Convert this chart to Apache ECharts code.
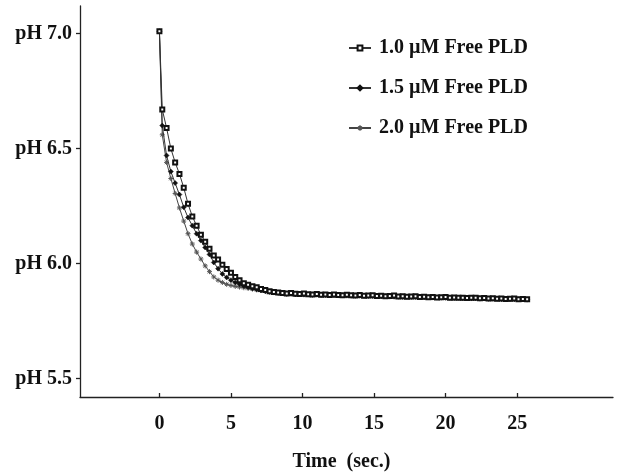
<!DOCTYPE html>
<html>
<head>
<meta charset="utf-8">
<script src="https://cdn.jsdelivr.net/npm/echarts@6/dist/echarts.min.js"></script>
<style>
html,body{margin:0;padding:0;background:#fff;}
#chart{width:620px;height:476px;}
</style>
</head>
<body>
<div id="chart"></div>
<script>
var time = [0, 0.2, 0.5, 0.8, 1.1, 1.4, 1.7, 2.0, 2.3, 2.6, 2.9, 3.2, 3.5, 3.8, 4.1, 4.4, 4.7, 5.0, 5.3, 5.6, 5.9, 6.2, 6.5, 6.8, 7.1, 7.4, 7.7, 8.0, 8.3, 8.6,
  8.9, 9.2, 9.5, 9.8, 10.1, 10.4, 10.7, 11.0, 11.3, 11.6,
  11.9, 12.2, 12.5, 12.8, 13.1, 13.4, 13.7, 14.0, 14.3, 14.6,
  14.9, 15.2, 15.5, 15.8, 16.1, 16.4, 16.7, 17.0, 17.3, 17.6,
  17.9, 18.2, 18.5, 18.8, 19.1, 19.4, 19.7, 20.0, 20.3, 20.6,
  20.9, 21.2, 21.5, 21.8, 22.1, 22.4, 22.7, 23.0, 23.3, 23.6,
  23.9, 24.2, 24.5, 24.8, 25.1, 25.4, 25.7];

var pld10 = [7.01, 6.67, 6.59, 6.50, 6.44, 6.39, 6.33, 6.26, 6.205, 6.165, 6.125, 6.095, 6.065, 6.035, 6.018, 5.995, 5.977, 5.96, 5.942, 5.928, 5.915, 5.908, 5.902, 5.897, 5.890, 5.885, 5.880, 5.876, 5.874, 5.872,
  5.870, 5.872, 5.869, 5.868, 5.870, 5.867, 5.866, 5.868, 5.865, 5.866,
  5.864, 5.866, 5.863, 5.862, 5.865, 5.862, 5.861, 5.863, 5.860, 5.861,
  5.862, 5.859, 5.860, 5.858, 5.859, 5.861, 5.857, 5.858, 5.856, 5.857,
  5.858, 5.855, 5.856, 5.854, 5.855, 5.853, 5.854, 5.855, 5.852, 5.853,
  5.851, 5.852, 5.850, 5.851, 5.852, 5.849, 5.850, 5.848, 5.849, 5.847,
  5.848, 5.846, 5.847, 5.848, 5.845, 5.846, 5.845];

var pld15 = [7.01, 6.60, 6.47, 6.40, 6.35, 6.30, 6.245, 6.20, 6.165, 6.13, 6.10, 6.07, 6.04, 6.005, 5.978, 5.955, 5.94, 5.928, 5.918, 5.91, 5.903, 5.897, 5.892, 5.887, 5.883, 5.880, 5.877, 5.874, 5.872, 5.870,
  5.868, 5.869, 5.866, 5.867, 5.865, 5.866, 5.864, 5.866, 5.863, 5.864,
  5.865, 5.862, 5.863, 5.861, 5.862, 5.860, 5.862, 5.860, 5.861, 5.859,
  5.860, 5.858, 5.859, 5.857, 5.858, 5.856, 5.857, 5.855, 5.857, 5.855,
  5.856, 5.854, 5.855, 5.853, 5.854, 5.852, 5.853, 5.851, 5.852, 5.850,
  5.852, 5.850, 5.851, 5.849, 5.850, 5.848, 5.849, 5.847, 5.848, 5.847,
  5.846, 5.847, 5.845, 5.846, 5.844, 5.845, 5.844];

var pld20 = [7.01, 6.56, 6.44, 6.37, 6.305, 6.242, 6.185, 6.13, 6.085, 6.05, 6.02, 5.99, 5.965, 5.942, 5.928, 5.918, 5.91, 5.905, 5.901, 5.898, 5.895, 5.892, 5.889, 5.886, 5.883, 5.880, 5.878, 5.876, 5.874, 5.872,
  5.870, 5.868, 5.869, 5.866, 5.867, 5.865, 5.866, 5.864, 5.865, 5.863,
  5.863, 5.864, 5.861, 5.862, 5.860, 5.861, 5.859, 5.861, 5.859, 5.860,
  5.858, 5.859, 5.857, 5.858, 5.856, 5.857, 5.855, 5.856, 5.854, 5.856,
  5.854, 5.855, 5.853, 5.854, 5.852, 5.853, 5.851, 5.852, 5.851, 5.850,
  5.851, 5.849, 5.850, 5.848, 5.849, 5.847, 5.848, 5.847, 5.846, 5.847,
  5.845, 5.846, 5.845, 5.844, 5.845, 5.844, 5.843];

var seriesNames = ['1.0 \u00b5M Free PLD', '1.5 \u00b5M Free PLD', '2.0 \u00b5M Free PLD'];
var xTickValues = [0, 5, 10, 15, 20, 25];
var xTickLabels = ['0', '5', '10', '15', '20', '25'];
var yTickValues = [5.5, 6.0, 6.5, 7.0];
var yTickLabels = ['pH 5.5', 'pH 6.0', 'pH 6.5', 'pH 7.0'];
var xAxisTitle = 'Time  (sec.)';

function pairs(xs, ys) {
  return xs.map(function (x, i) { return [x, ys[i]]; });
}

var FONT = "'Liberation Serif', 'Times New Roman', serif";
var chart = echarts.init(document.getElementById('chart'), null, {renderer: 'canvas'});
var starPath = 'path://M0,4L8,4M4,0L4,8M1.2,1.2L6.8,6.8M6.8,1.2L1.2,6.8';

chart.setOption({
  animation: false,
  backgroundColor: '#ffffff',
  grid: {left: 80, right: 7, top: 6, bottom: 79, containLabel: false, outerBoundsMode: 'none'},
  legend: {
    left: 343, top: 33, orient: 'vertical',
    itemWidth: 22, itemHeight: 6, itemGap: 20,
    data: seriesNames,
    textStyle: {fontFamily: FONT, fontWeight: 'bold', fontSize: 20, color: '#111', lineHeight: 20, padding: [0, 0, 0, 3]}
  },
  xAxis: {
    type: 'value', min: -5.55, max: 31.7,
    name: xAxisTitle, nameLocation: 'middle', nameGap: 55,
    nameTextStyle: {fontFamily: FONT, fontWeight: 'bold', fontSize: 20, color: '#111', padding: [0, 10, 0, 0]},
    axisLine: {show: true, onZero: false, lineStyle: {color: '#222', width: 1.3}},
    axisTick: {show: true, inside: true, length: 4, customValues: xTickValues, lineStyle: {color: '#222', width: 1.3}},
    axisLabel: {
      customValues: xTickValues, margin: 17,
      fontFamily: FONT, fontWeight: 'bold', fontSize: 20, color: '#111',
      formatter: function (v) { var i = xTickValues.indexOf(v); return i >= 0 ? xTickLabels[i] : ''; }
    },
    splitLine: {show: false}
  },
  yAxis: {
    type: 'value', min: 5.42, max: 7.12,
    axisLine: {show: true, onZero: false, lineStyle: {color: '#222', width: 1.3}},
    axisTick: {show: true, inside: false, length: 4, customValues: yTickValues, lineStyle: {color: '#222', width: 1.3}},
    axisLabel: {
      customValues: yTickValues, margin: 8,
      fontFamily: FONT, fontWeight: 'bold', fontSize: 20, color: '#111',
      formatter: function (v) {
        for (var i = 0; i < yTickValues.length; i++) { if (Math.abs(yTickValues[i] - v) < 1e-6) return yTickLabels[i]; }
        return '';
      }
    },
    splitLine: {show: false}
  },
  series: [
    {
      name: seriesNames[0], type: 'line', z: 5,
      data: pairs(time, pld10),
      symbol: 'emptyRect', symbolSize: 4, showAllSymbol: true,
      lineStyle: {color: '#333', width: 1},
      itemStyle: {color: '#111', borderColor: '#111', borderWidth: 1.4}
    },
    {
      name: seriesNames[1], type: 'line', z: 4,
      data: pairs(time, pld15),
      symbol: 'diamond', symbolSize: 5, showAllSymbol: true,
      lineStyle: {color: '#333', width: 1},
      itemStyle: {color: '#111', borderColor: '#111', borderWidth: 0.5}
    },
    {
      name: seriesNames[2], type: 'line', z: 3,
      data: pairs(time, pld20),
      symbol: starPath, symbolSize: 5, showAllSymbol: true,
      lineStyle: {color: '#444', width: 1},
      itemStyle: {color: '#555', borderColor: '#555', borderWidth: 1}
    }
  ]
});
</script>
</body>
</html>
